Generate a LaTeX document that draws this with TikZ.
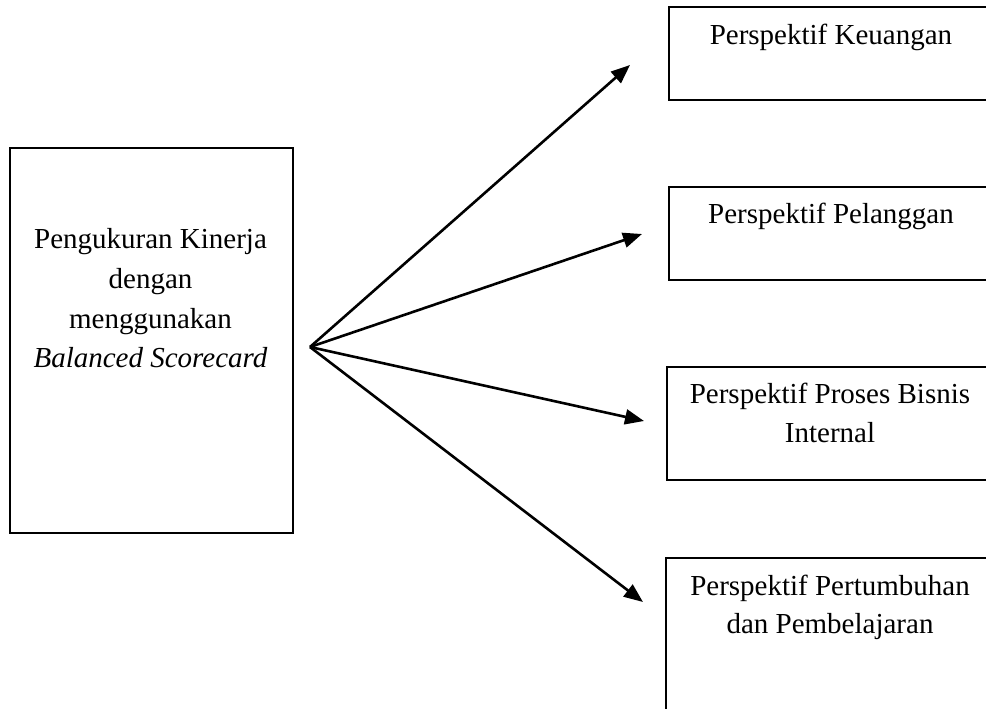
\documentclass[tikz,border=0pt]{standalone}
\usepackage{fontspec}
\setmainfont{Liberation Serif}
\usetikzlibrary{arrows.meta}
\begin{document}
\begin{tikzpicture}[x=1pt,y=-1pt,
  boxframe/.style={draw=black,line width=2pt,rectangle,inner sep=0pt,anchor=north west},
  label/.style={font=\fontsize{29}{40}\selectfont,inner sep=0pt,anchor=base,align=center},
  conn/.style={line width=2.6pt,-{Triangle[length=19pt,width=15pt]}}]
\clip (0,0) rectangle (986,709);
\fill[white] (0,0) rectangle (986,709);
% boxes
\node[boxframe,minimum width=283pt,minimum height=385pt] (main) at (9,147) {};
\node[boxframe,minimum width=326pt,minimum height=93pt] (b1) at (668,6) {};
\node[boxframe,minimum width=326pt,minimum height=93pt] (b2) at (668,186) {};
\node[boxframe,minimum width=328pt,minimum height=113pt] (b3) at (666,366) {};
\node[boxframe,minimum width=329pt,minimum height=163pt] (b4) at (665,557) {};
% texts
\node[label] (t0a) at (150.5,248) {Pengukuran Kinerja};
\node[label] (t0b) at (150.5,288) {dengan};
\node[label] (t0c) at (150.5,328) {menggunakan};
\node[label] (t0d) at (150.5,367) {\textit{Balanced Scorecard}};
\node[label] (t1) at (831,45) {Perspektif Keuangan};
\node[label] (t2) at (831,223) {Perspektif Pelanggan};
\node[label] (t3a) at (830,403) {Perspektif Proses Bisnis};
\node[label] (t3b) at (830,442) {Internal};
\node[label] (t4a) at (830,595) {Perspektif Pertumbuhan};
\node[label] (t4b) at (830,633) {dan Pembelajaran};
% connectors
\coordinate (o) at (310,347);
\coordinate (e1) at (630,65);
\coordinate (e2) at (642,234);
\coordinate (e3) at (644,421);
\coordinate (e4) at (643,602);
\draw[conn] (o) -- (e1);
\draw[conn] (o) -- (e2);
\draw[conn] (o) -- (e3);
\draw[conn] (o) -- (e4);
\end{tikzpicture}
\end{document}
